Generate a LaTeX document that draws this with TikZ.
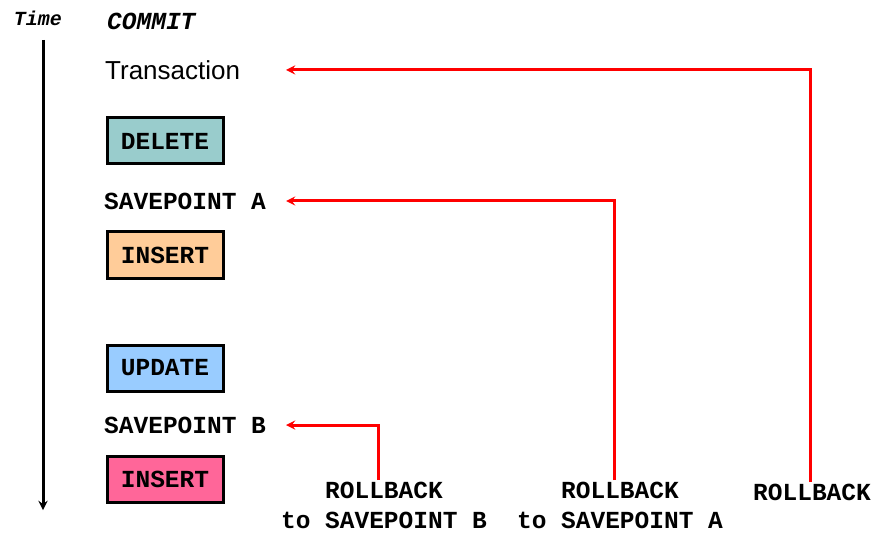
\documentclass[tikz,border=0pt]{standalone}
\usepackage{fontspec}
\setmainfont{Liberation Sans}
\setmonofont{Liberation Mono}
\usepackage{tikz}
\usetikzlibrary{arrows}
\definecolor{deletefill}{RGB}{153,204,204}
\definecolor{insertfill}{RGB}{255,204,153}
\definecolor{updatefill}{RGB}{153,204,255}
\definecolor{insertpink}{RGB}{255,102,153}
\newcommand{\ttbig}{\ttfamily\bfseries\fontsize{24.5}{30}\selectfont}
\tikzstyle{opbox} = [rectangle,minimum width=116pt,minimum height=46pt,text centered,draw=black,line width=3pt,font=\ttbig]
\tikzstyle{sptext} = [anchor=west,inner sep=0pt,font=\ttbig]
\tikzstyle{rbtext} = [anchor=north,inner sep=2pt,align=center,font=\ttbig]
\tikzstyle{arrow} = [red,line width=3pt,->,>=stealth]
\tikzstyle{timearrow} = [black,line width=3pt,->,>=stealth]

\begin{document}
\begin{tikzpicture}[x=1pt,y=1pt]
\useasboundingbox (0,0) rectangle (877,-537);

\node (TM) [inner sep=0pt,font=\ttfamily\bfseries\itshape\fontsize{20}{24}\selectfont,xshift=38pt,yshift=-18pt] {Time};
\node (CM) [sptext,font=\ttfamily\bfseries\itshape\fontsize{24.5}{30}\selectfont,xshift=107pt,yshift=-21pt] {COMMIT};
\node (TR) [sptext,font=\fontsize{26}{30}\selectfont,xshift=105pt,yshift=-70pt] {Transaction};

\node (DEL)  [opbox,fill=deletefill,xshift=165pt,yshift=-141pt] {DELETE};
\node (SPA)  [sptext,xshift=104pt,yshift=-201pt] {SAVEPOINT A};
\node (INS1) [opbox,fill=insertfill,xshift=165pt,yshift=-255pt] {INSERT};
\node (UPD)  [opbox,fill=updatefill,xshift=165pt,yshift=-368pt] {UPDATE};
\node (SPB)  [sptext,xshift=104pt,yshift=-425pt] {SAVEPOINT B};
\node (INS2) [opbox,fill=insertpink,xshift=165pt,yshift=-479pt] {INSERT};

\node (RBB) [rbtext,xshift=384pt,yshift=-480pt] {ROLLBACK\\to SAVEPOINT B};
\node (RBA) [rbtext,xshift=620pt,yshift=-480pt] {ROLLBACK\\to SAVEPOINT A};
\node (RB)  [rbtext,xshift=812pt,yshift=-482pt] {ROLLBACK};

\coordinate (tip) at (286,0);
\coordinate (T0) at (43,-40);
\coordinate (T1) at (43,-510);

\draw[timearrow] (T0) -- (T1);

\draw[arrow] ([xshift=-6pt]RBB.north) |- (tip |- SPB);
\draw[arrow] ([xshift=-6pt]RBA.north) |- (tip |- SPA);
\draw[arrow] ([xshift=-2pt]RB.north) |- (tip |- TR);
\end{tikzpicture}
\end{document}
